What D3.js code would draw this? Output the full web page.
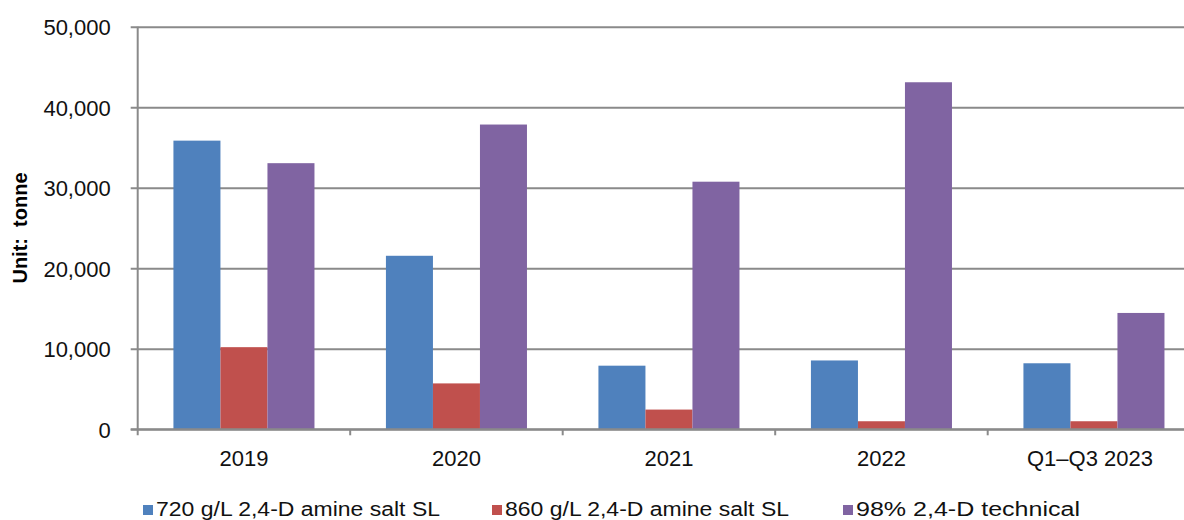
<!DOCTYPE html>
<html>
<head>
<meta charset="utf-8">
<script src="https://cdn.jsdelivr.net/npm/d3@7"></script>
<style>
  html, body { margin: 0; padding: 0; background: #fff; }
  svg { display: block; font-family: "Liberation Sans", Arial, sans-serif; }
</style>
</head>
<body>
<svg id="chart" width="1184" height="520"></svg>
<script>
// Categories and series (tonnes)
const categories = ["2019", "2020", "2021", "2022", "Q1–Q3 2023"];
const seriesNames = ["720 g/L 2,4-D amine salt SL", "860 g/L 2,4-D amine salt SL", "98% 2,4-D technical"];
const amine720 = [35850, 21550, 7900, 8550, 8200];
const amine860 = [10200, 5700, 2450, 1000, 1000];
const technical98 = [33050, 37850, 30750, 43100, 14450];
const seriesValues = [amine720, amine860, technical98];
const seriesColors = ["#4F81BD", "#C0504D", "#8064A2"];
const yTicks = [0, 10000, 20000, 30000, 40000, 50000];

const svg = d3.select("#chart");
const gridColor = "#8a8a8a";

const plot = { left: 137.7, top: 26.7, bottom: 429.3 };
const bandWidth = 212.5;

const x = d3.scaleBand()
  .domain(categories)
  .range([plot.left, plot.left + bandWidth * categories.length])
  .paddingInner(0).paddingOuter(0);

const xInner = d3.scaleBand()
  .domain(d3.range(seriesNames.length))
  .range([0, x.bandwidth()])
  .paddingInner(0).paddingOuter(0.76);

const y = d3.scaleLinear().domain([0, 50000]).range([plot.bottom, plot.top]);

// Horizontal gridlines with tick stubs to the left of the axis
const yAxis = d3.axisLeft(y)
  .tickValues(yTicks)
  .tickFormat(d3.format(","))
  .tickSize(-(1184 - plot.left))
  .tickPadding(27);

const yg = svg.append("g").attr("transform", `translate(${plot.left},0)`).call(yAxis);
yg.select(".domain").remove();
yg.selectAll(".tick line")
  .attr("x1", -7)
  .attr("stroke", gridColor)
  .attr("stroke-width", 2);
yg.selectAll(".tick text")
  .attr("fill", "#111")
  .attr("font-size", 22)
  .attr("dy", "0.36em");

// Bars
const groups = svg.append("g").selectAll("g")
  .data(categories)
  .join("g")
  .attr("transform", d => `translate(${x(d)},0)`);

groups.selectAll("rect")
  .data((d, i) => seriesValues.map((vals, s) => ({ s, v: vals[i] })))
  .join("rect")
  .attr("x", d => xInner(d.s))
  .attr("width", xInner.bandwidth())
  .attr("y", d => y(d.v))
  .attr("height", d => y(0) - y(d.v))
  .attr("fill", d => seriesColors[d.s]);

// Baseline re-drawn over bars
svg.append("line")
  .attr("x1", plot.left - 7).attr("x2", 1184)
  .attr("y1", y(0)).attr("y2", y(0))
  .attr("stroke", gridColor).attr("stroke-width", 2);

// Vertical axis line
svg.append("line")
  .attr("x1", plot.left).attr("x2", plot.left)
  .attr("y1", plot.top).attr("y2", plot.bottom + 6)
  .attr("stroke", gridColor).attr("stroke-width", 2);

// Category separator ticks below the baseline
const xAxisG = svg.append("g");
xAxisG.selectAll("line.sep")
  .data(categories.slice(1))
  .join("line")
  .attr("class", "sep")
  .attr("x1", d => x(d)).attr("x2", d => x(d))
  .attr("y1", y(0)).attr("y2", y(0) + 6)
  .attr("stroke", gridColor).attr("stroke-width", 2);

// Category labels
xAxisG.selectAll("text")
  .data(categories)
  .join("text")
  .attr("x", d => x(d) + x.bandwidth() / 2 - (d.length > 4 ? 4 : 0))
  .attr("y", 466)
  .attr("text-anchor", "middle")
  .attr("font-size", 22)
  .attr("fill", "#111")
  .text(d => d);

// Y-axis title
svg.append("text")
  .attr("transform", `translate(27,${(plot.top + plot.bottom) / 2}) rotate(-90)`)
  .attr("text-anchor", "middle")
  .attr("font-size", 20)
  .attr("font-weight", "bold")
  .attr("fill", "#000")
  .attr("xml:space", "preserve")
  .text("Unit:  tonne");

// Legend
const legendX = [143, 492, 843];
const legendTextLen = [284, 284, 224];
const legend = svg.append("g").selectAll("g")
  .data(seriesNames)
  .join("g")
  .attr("transform", (d, i) => `translate(${legendX[i]},0)`);

legend.append("rect")
  .attr("x", 0).attr("y", 505)
  .attr("width", 10).attr("height", 10)
  .attr("fill", (d, i) => seriesColors[i]);

legend.append("text")
  .attr("x", 13)
  .attr("y", 516)
  .attr("font-size", 20)
  .attr("fill", "#111")
  .attr("textLength", (d, i) => legendTextLen[i])
  .attr("lengthAdjust", "spacingAndGlyphs")
  .text(d => d);
</script>
</body>
</html>
